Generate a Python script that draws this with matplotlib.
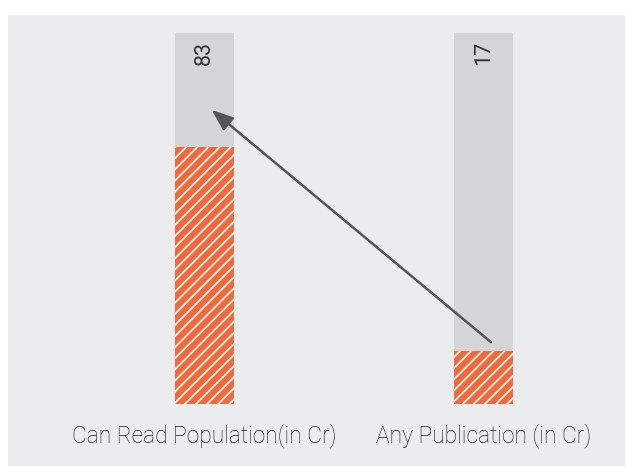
import matplotlib
matplotlib.use("Agg")
import matplotlib.pyplot as plt

# ---- data ----
categories = ["Can Read Population(in Cr)", "Any Publication (in Cr)"]
values = [83, 17]
total = [120, 120]
value_labels = ["83", "17"]

# ---- style ----
bg_color = "#ebecee"
gray_bar = "#d4d5d6"
orange = "#f26a3b"
text_color = "#1e1e1e"
digit_color = "#333333"
arrow_color = "#555555"

plt.rcParams["hatch.linewidth"] = 1.2
plt.rcParams["font.family"] = ["Roboto", "DejaVu Sans"]

W, H = 625, 466
fig = plt.figure(figsize=(W / 100, H / 100), dpi=100)
fig.patch.set_facecolor("white")

# axes spans the grey panel (pixel 8..625 horizontally, 15..466 vertically)
ax = fig.add_axes([8 / W, 0, 617 / W, 451 / H])
ax.set_facecolor(bg_color)
for s in ax.spines.values():
    s.set_visible(False)
ax.set_xticks([])
ax.set_yticks([])

x = list(range(len(categories)))
bar_w = 0.2115
ax.bar(x, total, width=bar_w, color=gray_bar, linewidth=0, zorder=1)
ax.bar(x, values, width=bar_w, color=orange, edgecolor="white",
       linewidth=0, hatch="///", zorder=2)

ax.set_xlim(-0.7025, 1.507)
ax.set_ylim(-20.05, 125.8)

for xi, lab in zip(x, value_labels):
    ax.text(xi, 113.5, lab, rotation=90, ha="center", va="center",
            fontsize=15.5, color=digit_color, fontweight="normal")

for xi, cat in zip(x, categories):
    ax.text(xi, -10.2, cat, ha="center", va="center", fontsize=16.4,
            color=text_color, fontweight="light")

ax.annotate("", xy=(0.027, 95.1), xytext=(1.027, 20.0),
            arrowprops=dict(arrowstyle="-|>,head_length=0.65,head_width=0.25",
                            mutation_scale=20, color=arrow_color, lw=1.8,
                            shrinkA=0, shrinkB=0), zorder=5)

fig.savefig("out.png", dpi=100, facecolor="white")
